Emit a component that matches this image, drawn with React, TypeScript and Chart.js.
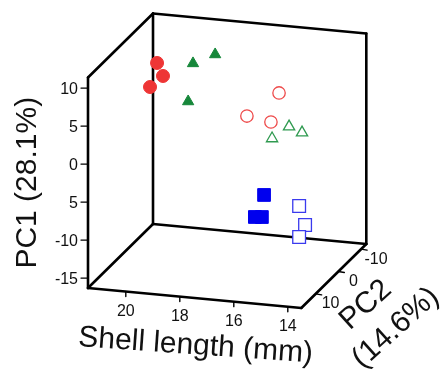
import React, { useEffect, useRef } from "react";
import { Chart, registerables } from "chart.js";

Chart.register(...registerables);

// ---- Data (Shell length mm, PC1, PC2) ----
const redFilledSL = [20.72, 20.5, 20.98];
const redFilledPC1 = [6.97, 5.33, 3.72];
const redFilledPC2 = [-6, -6, -6];

const greenFilledSL = [19.22, 18.4, 19.4];
const greenFilledPC1 = [8.0, 9.45, 2.93];
const greenFilledPC2 = [-4, -4, -4];

const redOpenSL = [15.36, 16.55, 15.66];
const redOpenPC1 = [7.75, 4.32, 3.83];
const redOpenPC2 = [4, 4, 4];

const greenOpenSL = [14.82, 14.34, 15.45];
const greenOpenPC1 = [4.1, 3.47, 2.32];
const greenOpenPC2 = [6, 6, 6];

const blueFilledSL = [16.42, 16.76, 16.5];
const blueFilledPC1 = [-7.79, -10.8, -10.72];
const blueFilledPC2 = [-2, -2, -2];

const blueOpenSL = [14.7, 14.48, 14.7];
const blueOpenPC1 = [-7.2, -9.63, -11.28];
const blueOpenPC2 = [3, 3, 3];

// ---- Axes ----
const SL_RANGE = [13.5, 21.4];
const PC1_RANGE = [-16.3, 11.4];
const PC2_RANGE = [-12.3, 16.3];

const SL_TICKS = [20, 18, 16, 14];
const SL_TICK_LABELS = ["20", "18", "16", "14"];
const PC1_TICKS = [10, 5, 0, -5, -10, -15];
const PC1_TICK_LABELS = ["10", "5", "0", "5", "-10", "-15"];
const PC2_TICKS = [-10, 0, 10];
const PC2_TICK_LABELS = ["-10", "0", "10"];

const X_TITLE = "Shell length (mm)";
const Y_TITLE = "PC1 (28.1%)";
const Z_TITLE_1 = "PC2";
const Z_TITLE_2 = "(14.6%)";

// ---- projection (oblique 3D -> chart units) ----
function project(sl: number, pc1: number, pc2: number) {
  const u = SL_RANGE[1] - sl;
  const v = pc1 - PC1_RANGE[0];
  const d = PC2_RANGE[1] - pc2;
  return { x: 88 + 27 * u + 2.273 * d, y: 288 + 2.53 * u - 7.6 * v - 2.238 * d };
}

function pts(sl: number[], p1: number[], p2: number[]) {
  return sl.map((s, i) => project(s, p1[i], p2[i]));
}

const FONT = "'Liberation Sans', Arial, sans-serif";

export default function App() {
  const ref = useRef<HTMLCanvasElement | null>(null);

  useEffect(() => {
    document.body.style.margin = "0";
    const canvas = ref.current;
    if (!canvas) return;

    const [slMin, slMax] = SL_RANGE;
    const [p1Min, p1Max] = PC1_RANGE;
    const [p2Min, p2Max] = PC2_RANGE;
    const FLB = project(slMax, p1Min, p2Max);
    const FLT = project(slMax, p1Max, p2Max);
    const BLB = project(slMax, p1Min, p2Min);
    const BLT = project(slMax, p1Max, p2Min);
    const BRB = project(slMin, p1Min, p2Min);
    const BRT = project(slMin, p1Max, p2Min);
    const FRB = project(slMin, p1Min, p2Max);
    const edges = [
      [FLB, FLT], [FLT, BLT], [BLT, BLB], [BLT, BRT], [BRT, BRB],
      [BLB, BRB], [FLB, BLB], [FLB, FRB], [FRB, BRB],
    ];

    const lineDs = (a: any, b: any, w: number) => ({
      data: [a, b],
      showLine: true,
      borderColor: "#000",
      borderWidth: w,
      borderCapStyle: "round",
      pointRadius: 0,
      order: 10,
      clip: false,
    });

    const datasets: any[] = [];
    edges.forEach(([a, b]) => datasets.push(lineDs(a, b, 2.6)));
    PC1_TICKS.forEach((t) => {
      const p = project(slMax, t, p2Max);
      datasets.push(lineDs(p, { x: p.x - 7, y: p.y }, 1.4));
    });
    SL_TICKS.forEach((t) => {
      const p = project(t, p1Min, p2Max);
      datasets.push(lineDs(p, { x: p.x, y: p.y + 5 }, 1.4));
    });
    PC2_TICKS.forEach((t) => {
      const p = project(slMin, p1Min, t);
      datasets.push(lineDs(p, { x: p.x + 6, y: p.y + 1 }, 1.4));
    });

    const markers = (data: any, style: string, r: number, bg: string, bc: string, bw: number) => ({
      data,
      pointStyle: style,
      pointRadius: r,
      backgroundColor: bg,
      borderColor: bc,
      pointBackgroundColor: bg,
      pointBorderColor: bc,
      pointBorderWidth: bw,
      showLine: false,
      order: 0,
      clip: false,
    });

    datasets.push(markers(pts(redFilledSL, redFilledPC1, redFilledPC2), "circle", 6.5, "#ee3535", "#ee3535", 1));
    datasets.push(markers(pts(greenFilledSL, greenFilledPC1, greenFilledPC2), "triangle", 6.5, "#16873a", "#16873a", 1));
    datasets.push(markers(pts(redOpenSL, redOpenPC1, redOpenPC2), "circle", 6.2, "#ffffff", "#ee4a4a", 1.3));
    datasets.push(markers(pts(greenOpenSL, greenOpenPC1, greenOpenPC2), "triangle", 6.5, "#ffffff", "#2f9a50", 1.3));
    datasets.push(markers(pts(blueFilledSL, blueFilledPC1, blueFilledPC2), "rect", 9, "#0000ee", "#0000ee", 1));
    datasets.push(markers(pts(blueOpenSL, blueOpenPC1, blueOpenPC2), "rect", 9, "#ffffff", "#3a3aee", 1.3));

    const textPlugin = {
      id: "axisText",
      afterDraw(chart: any) {
        const ctx = chart.ctx;
        const xs = chart.scales.x;
        const ys = chart.scales.y;
        const px = (p: any) => ({ x: xs.getPixelForValue(p.x), y: ys.getPixelForValue(p.y) });
        ctx.save();
        ctx.fillStyle = "#111";
        ctx.font = `16px ${FONT}`;
        // PC1 tick labels
        ctx.textAlign = "right";
        ctx.textBaseline = "middle";
        PC1_TICKS.forEach((t, i) => {
          const p = px(project(slMax, t, p2Max));
          ctx.fillText(PC1_TICK_LABELS[i], p.x - 10, p.y + 1);
        });
        // Shell length tick labels
        ctx.textAlign = "center";
        SL_TICKS.forEach((t, i) => {
          const p = px(project(t, p1Min, p2Max));
          ctx.fillText(SL_TICK_LABELS[i], p.x, p.y + 20);
        });
        // PC2 tick labels
        PC2_TICKS.forEach((t, i) => {
          const p = px(project(slMin, p1Min, t));
          ctx.fillText(PC2_TICK_LABELS[i], p.x + 15, p.y + 10);
        });
        // Titles
        ctx.font = `30px ${FONT}`;
        ctx.textAlign = "center";
        ctx.textBaseline = "middle";
        const drawRot = (txt: string, x: number, y: number, ang: number) => {
          ctx.save();
          ctx.translate(x, y);
          ctx.rotate((ang * Math.PI) / 180);
          ctx.fillText(txt, 0, 0);
          ctx.restore();
        };
        const yMid = px(project(slMax, (p1Min + p1Max) / 2, p2Max));
        drawRot(Y_TITLE, yMid.x - 60, yMid.y, -90);
        const xMid = px(project((slMin + slMax) / 2, p1Min, p2Max));
        drawRot(X_TITLE, xMid.x + 1, xMid.y + 48, 4);
        const zMid = px(project(slMin, p1Min, (p2Min + p2Max) / 2));
        drawRot(Z_TITLE_1, zMid.x + 32, zMid.y + 29, -42);
        drawRot(Z_TITLE_2, zMid.x + 62, zMid.y + 52, -42);
        ctx.restore();
      },
    };

    const chart = new Chart(canvas, {
      type: "scatter",
      data: { datasets },
      options: {
        responsive: false,
        animation: false,
        events: [],
        layout: { padding: 0, autoPadding: false },
        plugins: { legend: { display: false }, tooltip: { enabled: false } },
        scales: {
          x: { type: "linear", min: 0, max: 444, display: false },
          y: { type: "linear", min: 0, max: 375, reverse: true, display: false },
        },
      } as any,
      plugins: [textPlugin],
    });
    return () => chart.destroy();
  }, []);

  return (
    <div style={{ width: 444, height: 375, background: "#fff" }}>
      <canvas ref={ref} width={444} height={375} style={{ display: "block", width: 444, height: 375 }} />
    </div>
  );
}
